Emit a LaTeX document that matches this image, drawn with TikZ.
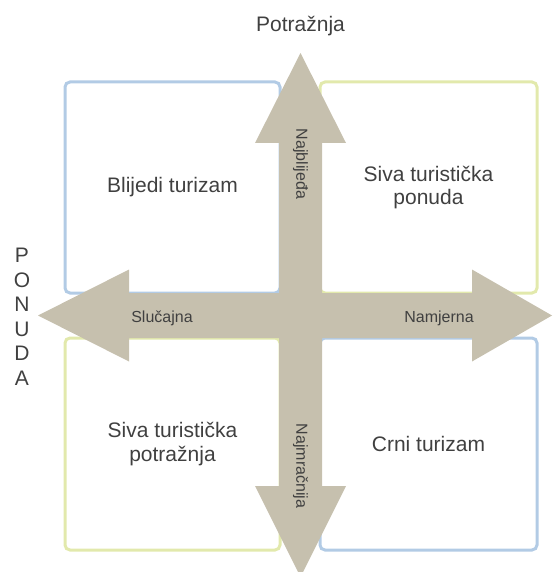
\documentclass[tikz,border=0pt]{standalone}
\usepackage{fontspec}
\setmainfont{Liberation Sans}
\definecolor{arrowfill}{HTML}{C6C0AE}
\definecolor{boxblue}{HTML}{B2CBE5}
\definecolor{boxyellow}{HTML}{E2E9AC}
\definecolor{txt}{HTML}{404040}
\begin{document}
\begin{tikzpicture}[x=1pt,y=-1pt,
  quad/.style={draw, line width=3pt, rounded corners=5pt, inner sep=0pt, align=center, text=txt, font=\fontsize{21}{23.5}\selectfont},
  quadblue/.style={quad, draw=boxblue},
  quadyellow/.style={quad, draw=boxyellow},
  axislbl/.style={text=txt, font=\fontsize{16}{18}\selectfont, inner sep=0pt},
  titlelbl/.style={text=txt, font=\fontsize{21}{24.5}\selectfont, inner sep=0pt, align=center}]
\useasboundingbox (0,0) rectangle (552,572);
% quadrants
\node[quadblue,   minimum width=215pt, minimum height=211pt] (tl) at (172.5,187.5) {Blijedi turizam};
\node[quadyellow, minimum width=217pt, minimum height=211pt] (tr) at (428.5,187.5) {\raisebox{-3pt}{\parbox{200pt}{\centering Siva turistička\\ponuda}}};
\node[quadyellow, minimum width=215pt, minimum height=212pt] (bl) at (172.5,444) {Siva turistička\\potražnja};
\node[quadblue,   minimum width=217pt, minimum height=212pt] (br) at (428.5,444) {Crni turizam};
% cross of arrows
\fill[arrowfill] (300.5,53) -- (346,143) -- (322,143) -- (322,293) -- (472,293) -- (472,269.5)
  -- (552,315.5) -- (472,361.5) -- (472,338) -- (322,338) -- (322,486) -- (346,486)
  -- (300.5,577) -- (255,486) -- (279,486) -- (279,338) -- (129,338) -- (129,361.5)
  -- (38,315.5) -- (129,269.5) -- (129,293) -- (279,293) -- (279,143) -- (255,143) -- cycle;
% labels
\node[titlelbl] (pot) at (300.5,26) {Potražnja};
\node[titlelbl] (pon) at (22,317) {P\\O\\N\\U\\D\\A};
\node[axislbl, rotate=-90] (najb) at (300.5,164) {Najblijeđa};
\node[axislbl, rotate=-90] (najm) at (300.5,466) {Najmračnija};
\node[axislbl] (slu) at (162,318) {Slučajna};
\node[axislbl] (nam) at (439,318) {Namjerna};
\end{tikzpicture}
\end{document}
